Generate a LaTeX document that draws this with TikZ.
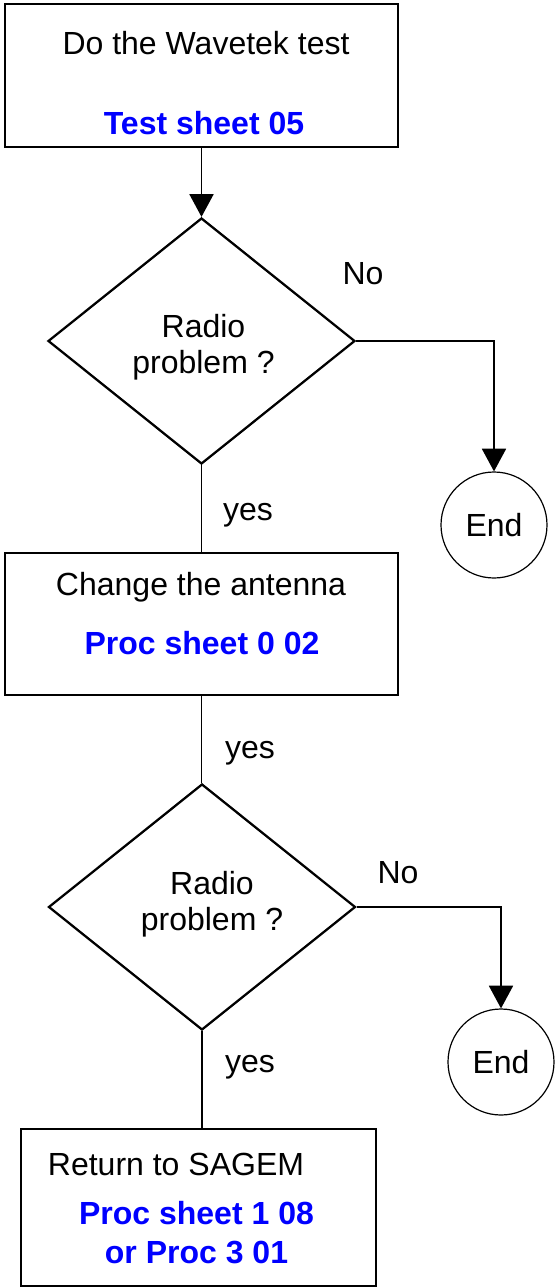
\documentclass[tikz,border=0pt]{standalone}
\usepackage[dvipsnames]{xcolor}
\usepackage{fontspec}
\setmainfont{Liberation Sans}
\usetikzlibrary{shapes.geometric,arrows.meta}

\begin{document}
\begin{tikzpicture}[x=0.75pt,y=-0.75pt,>={Triangle[width=18pt,length=17pt]},line width=1.3pt,
    every node/.style={font=\fontsize{24}{27}\selectfont},
    box node/.style={rectangle,draw,line width=1.3pt,inner sep=0pt},
    test node/.style={diamond,draw,line width=1.7pt,inner sep=0pt,minimum width=230.25pt,minimum height=184.5pt},
    end node/.style={circle,draw,line width=0.9pt,inner sep=0pt,minimum size=79.5pt},
    sheet/.style={font=\fontsize{24}{29}\selectfont\bfseries,text=blue,align=center}]

                    \useasboundingbox (0,0) rectangle (556,1287);

                    \node[box node,minimum width=294.75pt,minimum height=107.25pt] (wavetek) at (201.5,75.5) {};
                    \node (wavetekTxt) at (206,43) {Do the Wavetek test};
                    \node[sheet] (wavetekRef) at (204,123.5) {Test sheet 05};

                    \node[test node] (radio1) at (201.5,341) {};
                    \node[align=center] (radio1Txt) at (203.5,347) {Radio\\problem ?};

                    \node[end node] (end1) at (494,525) {End};

                    \node[box node,minimum width=294.75pt,minimum height=106.5pt] (antenna) at (201.5,624) {};
                    \node (antennaTxt) at (201,587) {Change the antenna};
                    \node[sheet] (antennaRef) at (202,643.5) {Proc sheet 0 02};

                    \node[test node] (radio2) at (202,907) {};
                    \node[align=center] (radio2Txt) at (212,904) {Radio\\problem ?};

                    \node[end node] (end2) at (501,1062) {End};

                    \node[box node,minimum width=266.25pt,minimum height=117.75pt] (sagem) at (198.5,1207.5) {};
                    \node (sagemTxt) at (176,1164) {Return to SAGEM};
                    \node[sheet] (sagemRef) at (196.5,1232.5) {Proc sheet 1 08\\or Proc 3 01};

                    \node (no1) at (363,274) {No};
                    \node (no2) at (398,873) {No};
                    \node (yes1) at (248,515) {yes};
                    \node (yes2) at (250,753) {yes};
                    \node (yes3) at (250,1067) {yes};

                    \draw[->] (wavetek) -- (radio1);
                    \draw (radio1) -- (antenna);
                    \draw (antenna.south) -- (antenna.south |- radio2.north);
                    \draw (radio2.south) -- (radio2.south |- sagem.north);
                    \draw[->] (radio1.east) -| (end1.north);
                    \draw[->] (radio2.east) -| (end2.north);
                \end{tikzpicture}
\end{document}
